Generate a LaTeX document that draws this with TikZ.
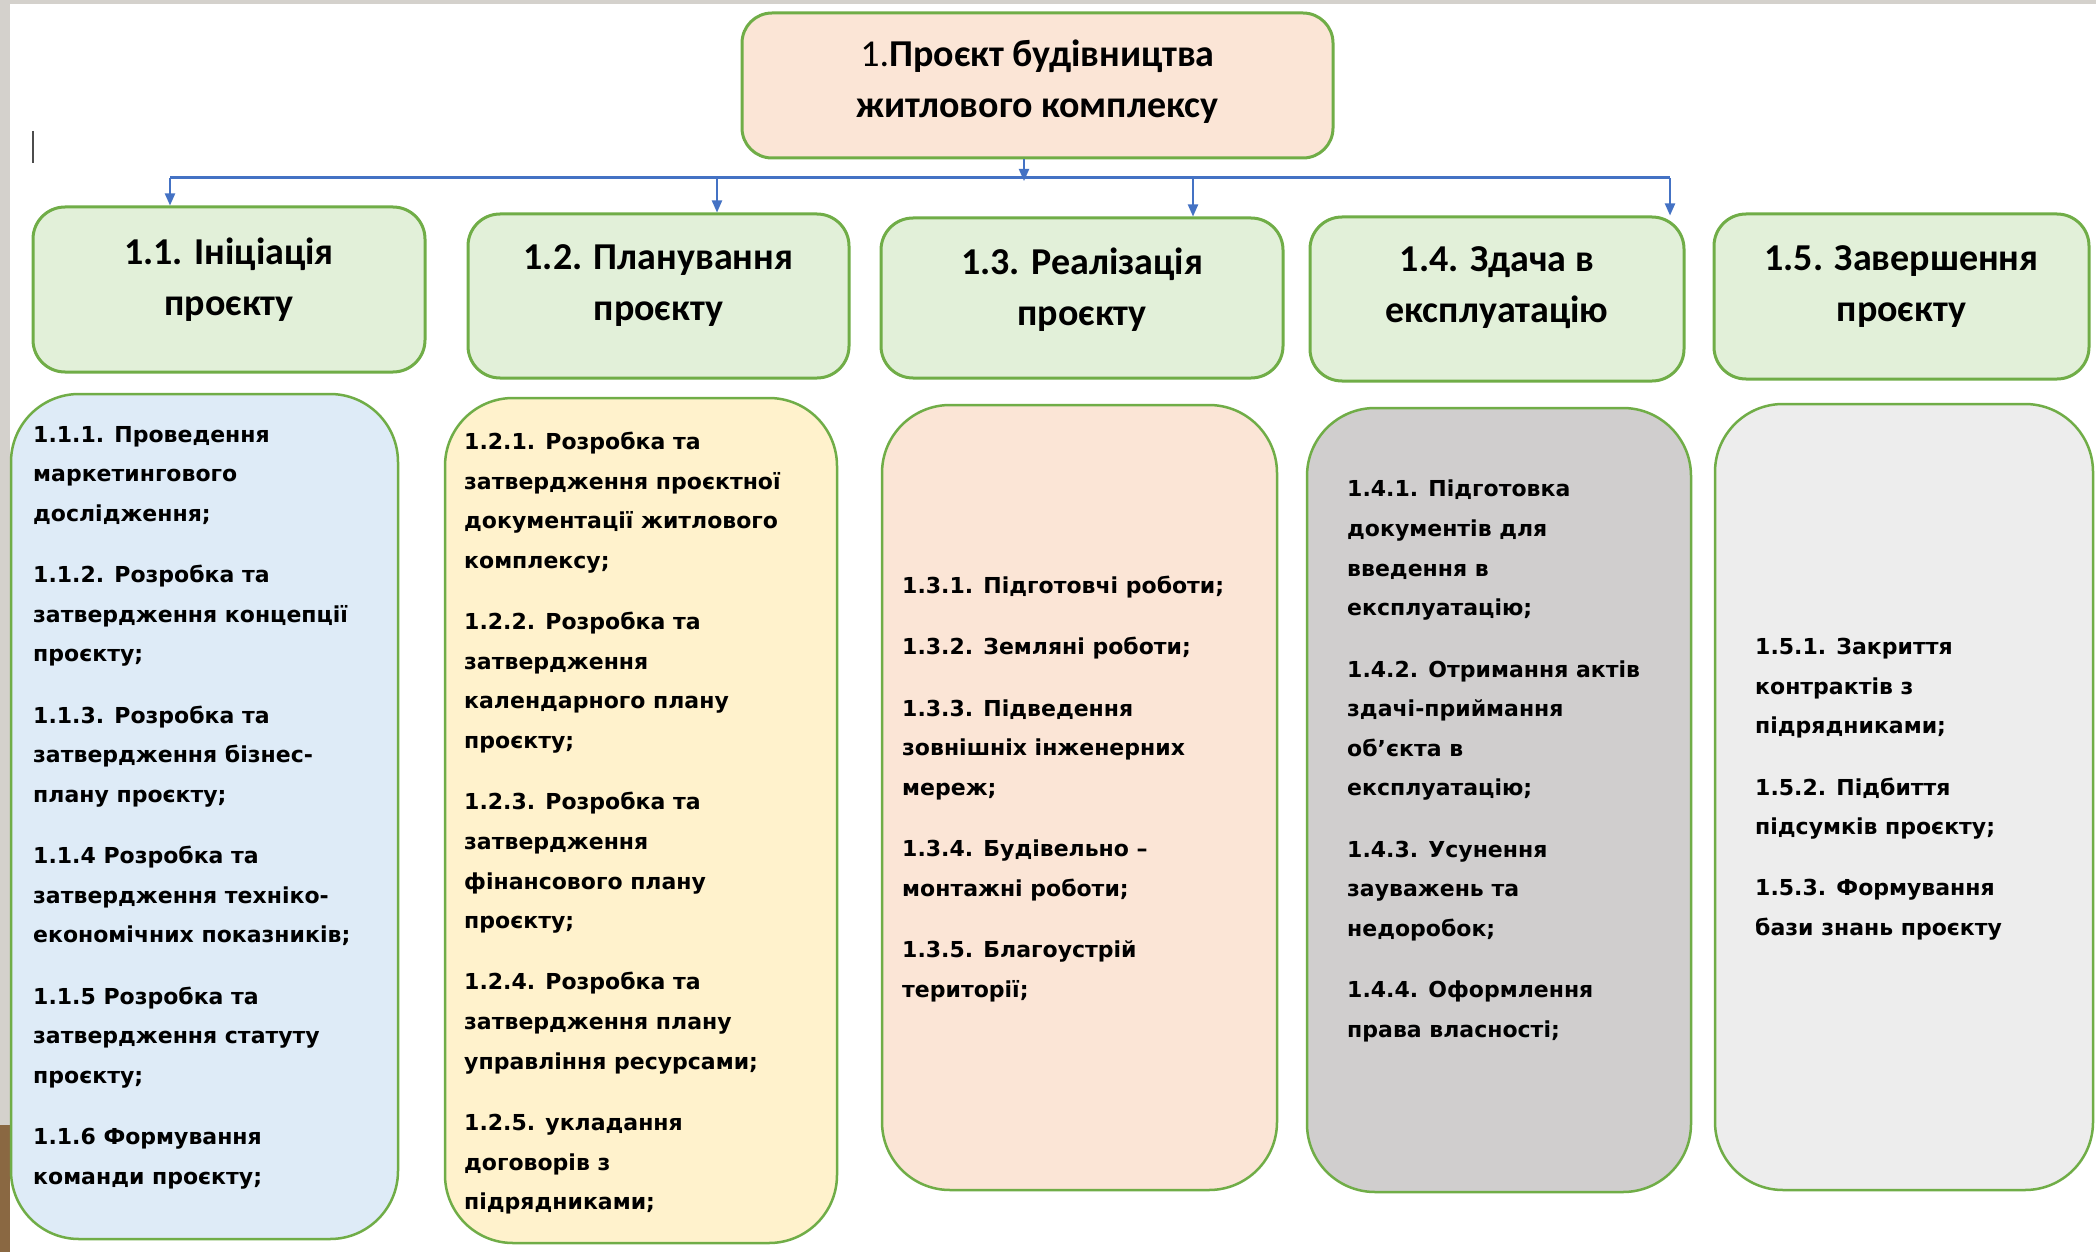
\documentclass[tikz,border=0pt]{standalone}
\usepackage{fontspec}
\setmainfont{DejaVu Sans}
\newfontfamily\hfont{Carlito}
\newfontfamily\bfont{DejaVu Sans}
\usetikzlibrary{arrows.meta}
\definecolor{grn}{HTML}{70AD47}
\definecolor{peach}{HTML}{FBE5D6}
\definecolor{lgreen}{HTML}{E2F0D9}
\definecolor{lblue}{HTML}{DEEBF7}
\definecolor{lyellow}{HTML}{FFF2CC}
\definecolor{gray4}{HTML}{D0CECE}
\definecolor{gray5}{HTML}{EDEDED}
\definecolor{conn}{HTML}{4472C4}
\definecolor{slide}{HTML}{D4D1CC}
\definecolor{photo}{HTML}{8A6842}
\tikzset{
  topbox/.style={draw=grn, line width=3pt, fill=peach, rounded corners=30pt, inner sep=0pt},
  phasebox/.style={draw=grn, line width=3pt, fill=lgreen, rounded corners=32pt, inner sep=0pt},
  listbox/.style={draw=grn, line width=2.5pt, rounded corners=68pt, inner sep=0pt},
  headtext/.style={align=center, inner sep=0pt, font=\hfont\bfseries\fontsize{38}{51}\selectfont},
  listtext/.style={align=left, inner sep=0pt, anchor=north west, font=\bfont\bfseries\fontsize{22}{39.6}\selectfont},
  bus/.style={draw=conn, line width=3pt},
  drop/.style={draw=conn, line width=2pt, -{Triangle[length=12pt,width=10pt]}},
}
\begin{document}
\begin{tikzpicture}[x=1pt,y=-1pt]
\useasboundingbox (0,0) rectangle (2096,1252);
\fill[white] (0,0) rectangle (2096,1252);
\fill[slide] (0,0) rectangle (2096,4);
\fill[slide] (0,0) rectangle (10,1252);
\fill[photo] (0,1125) rectangle (10,1252);
\draw[line width=2pt, black!70] (33,131) -- (33,163);

% top
\node[topbox, minimum width=591pt, minimum height=145pt] (top) at (1037.5,85.5) {};
\node[headtext, font=\hfont\fontsize{38}{51}\selectfont] (toptext) at ([yshift=4pt]top.center) {1.\textbf{Проєкт будівництва}\\\textbf{житлового комплексу}};

% phases
\node[phasebox, minimum width=392pt, minimum height=165pt] (g1) at (229,289.5) {};
\node[phasebox, minimum width=381pt, minimum height=164pt] (g2) at (658.5,296) {};
\node[phasebox, minimum width=402pt, minimum height=160pt] (g3) at (1082,298) {};
\node[phasebox, minimum width=374pt, minimum height=164pt] (g4) at (1497,299) {};
\node[phasebox, minimum width=375pt, minimum height=165pt] (g5) at (1901.5,296.5) {};
\node[headtext] (t1) at ([yshift=10pt]g1.center) {1.1. Ініціація\\проєкту};
\node[headtext] (t2) at ([yshift=10pt]g2.center) {1.2. Планування\\проєкту};
\node[headtext] (t3) at ([yshift=8pt]g3.center) {1.3. Реалізація\\проєкту};
\node[headtext] (t4) at ([yshift=11pt]g4.center) {1.4. Здача в\\експлуатацію};
\node[headtext] (t5) at ([yshift=10pt]g5.center) {1.5. Завершення\\проєкту};

% lists
\node[listbox, fill=lblue, minimum width=387pt, minimum height=845pt] (b1) at (204.5,816.5) {};
\node[listbox, fill=lyellow, minimum width=392pt, minimum height=845pt] (b2) at (641,820.5) {};
\node[listbox, fill=peach, minimum width=395pt, minimum height=785pt] (b3) at (1079.5,797.5) {};
\node[listbox, fill=gray4, minimum width=384pt, minimum height=784pt] (b4) at (1499,800) {};
\node[listbox, fill=gray5, minimum width=378pt, minimum height=786pt] (b5) at (1904,797) {};

\node[listtext] (l1) at (33,426) {1.1.1. Проведення\\маркетингового\\дослідження;\\[21.7pt]
1.1.2. Розробка та\\затвердження концепції\\проєкту;\\[21.7pt]
1.1.3. Розробка та\\затвердження бізнес-\\плану проєкту;\\[21.7pt]
1.1.4 Розробка та\\затвердження техніко-\\економічних показників;\\[21.7pt]
1.1.5 Розробка та\\затвердження статуту\\проєкту;\\[21.7pt]
1.1.6 Формування\\команди проєкту;};

\node[listtext] (l2) at (464,432) {1.2.1. Розробка та\\затвердження проєктної\\документації житлового\\комплексу;\\[21.7pt]
1.2.2. Розробка та\\затвердження\\календарного плану\\проєкту;\\[21.7pt]
1.2.3. Розробка та\\затвердження\\фінансового плану\\проєкту;\\[21.7pt]
1.2.4. Розробка та\\затвердження плану\\управління ресурсами;\\[21.7pt]
1.2.5. укладання\\договорів з\\підрядниками;};

\node[listtext] (l3) at (902,576) {1.3.1. Підготовчі роботи;\\[21.7pt]
1.3.2. Земляні роботи;\\[21.7pt]
1.3.3. Підведення\\зовнішніх інженерних\\мереж;\\[21.7pt]
1.3.4. Будівельно –\\монтажні роботи;\\[21.7pt]
1.3.5. Благоустрій\\території;};

\node[listtext] (l4) at (1347,480) {1.4.1. Підготовка\\документів для\\введення в\\експлуатацію;\\[21.7pt]
1.4.2. Отримання актів\\здачі-приймання\\об’єкта в\\експлуатацію;\\[21.7pt]
1.4.3. Усунення\\зауважень та\\недоробок;\\[21.7pt]
1.4.4. Оформлення\\права власності;};

\node[listtext] (l5) at (1755,638) {1.5.1. Закриття\\контрактів з\\підрядниками;\\[21.7pt]
1.5.2. Підбиття\\підсумків проєкту;\\[21.7pt]
1.5.3. Формування\\бази знань проєкту};

% connectors
\coordinate (busL) at (170,178);
\coordinate (busR) at (1670,178);
\coordinate (busT) at (1024,181);
\coordinate (bus2) at (717,178);
\coordinate (bus3) at (1193,178);
\draw[bus] (busL) -- (busR);
\draw[drop] (top.south -| busT) -- (busT);
\draw[drop] (busL) -- (busL |- g1.north);
\draw[drop] (bus2) -- (bus2 |- g2.north);
\draw[drop] (bus3) -- (bus3 |- g3.north);
\draw[drop] (busR) -- (busR |- g4.north);
\end{tikzpicture}
\end{document}
